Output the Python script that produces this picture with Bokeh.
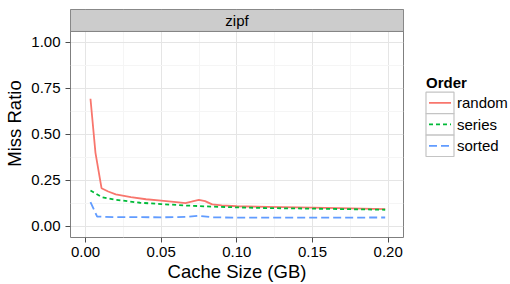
from bokeh.plotting import figure
from bokeh.layouts import row
from bokeh.models import (FixedTicker, Range1d, BoxAnnotation, Label, NumeralTickFormatter)
from bokeh.embed import file_html
from bokeh.resources import INLINE
from bokeh.core.properties import value

# ---- data ----
facet_label = "zipf"
legend_title = "Order"
order_levels = ["random", "series", "sorted"]

random_x = [0.0033, 0.0066, 0.0106, 0.015, 0.020, 0.030, 0.040, 0.050, 0.060, 0.066,
            0.070, 0.0749, 0.079, 0.0837, 0.090, 0.100, 0.120, 0.150, 0.175, 0.198]
random_y = [0.694, 0.400, 0.208, 0.190, 0.175, 0.160, 0.148, 0.140, 0.132, 0.127,
            0.135, 0.145, 0.138, 0.120, 0.115, 0.110, 0.107, 0.102, 0.098, 0.094]

series_x = [0.0033, 0.0106, 0.020, 0.036, 0.050, 0.066, 0.0837, 0.100, 0.120, 0.150, 0.175, 0.198]
series_y = [0.196, 0.160, 0.145, 0.129, 0.122, 0.114, 0.108, 0.104, 0.100, 0.097, 0.094, 0.091]

sorted_x = [0.0033, 0.0077, 0.020, 0.050, 0.066, 0.0749, 0.0837, 0.100, 0.150, 0.198]
sorted_y = [0.132, 0.054, 0.051, 0.050, 0.052, 0.058, 0.050, 0.048, 0.048, 0.049]

x_ticks = [0.0, 0.05, 0.10, 0.15, 0.20]
x_minor = [0.025, 0.075, 0.125, 0.175]
y_ticks = [0.0, 0.25, 0.50, 0.75, 1.00]
y_minor = [0.125, 0.375, 0.625, 0.875]

FONT = "Liberation Sans"
colors = {"random": "#F8766D", "series": "#00BA38", "sorted": "#619CFF"}
dashes = {"random": "solid", "series": "4 3", "sorted": "8 4"}
LINE_W = 1.8

strip_bottom = 1.0598

# ---------------- main panel ----------------
p = figure(width=404, height=284, output_backend="svg", toolbar_location=None,
           x_range=Range1d(-0.0099, 0.2101), y_range=Range1d(-0.0598, 1.179),
           min_border_left=70, min_border_right=1, min_border_top=9, min_border_bottom=47)

p.background_fill_color = "white"
p.border_fill_color = "white"
p.outline_line_color = "#7F7F7F"
p.outline_line_width = 1

for g in (p.xgrid, p.ygrid):
    g.grid_line_color = "#E5E5E5"
    g.grid_line_width = 1
    g.minor_grid_line_color = "#F5F5F5"
    g.minor_grid_line_width = 1

p.xaxis.ticker = FixedTicker(ticks=x_ticks, minor_ticks=x_minor)
p.yaxis.ticker = FixedTicker(ticks=y_ticks, minor_ticks=y_minor)
p.xaxis.formatter = NumeralTickFormatter(format="0.00")
p.yaxis.formatter = NumeralTickFormatter(format="0.00")

for ax in (p.xaxis, p.yaxis):
    ax.axis_line_color = None
    ax.major_tick_line_color = "#4D4D4D"
    ax.major_tick_out = 5
    ax.major_tick_in = 0
    ax.minor_tick_out = 0
    ax.minor_tick_in = 0
    ax.major_label_text_font = FONT
    ax.major_label_text_font_size = "15px"
    ax.major_label_text_color = "black"
    ax.axis_label_text_font = FONT
    ax.axis_label_text_font_size = "18.5px"
    ax.axis_label_text_font_style = "normal"
    ax.axis_label_text_color = "black"

p.xaxis.axis_label = "Cache Size (GB)"
p.yaxis.axis_label = "Miss Ratio"
p.xaxis.major_label_standoff = 4
p.yaxis.major_label_standoff = 5
p.xaxis.axis_label_standoff = 1
p.yaxis.axis_label_standoff = 3

# facet strip
p.add_layout(BoxAnnotation(bottom=strip_bottom, fill_color="#CCCCCC", fill_alpha=1,
                           line_color="#7F7F7F", line_width=1, line_alpha=1))
p.add_layout(Label(x=(p.x_range.start + p.x_range.end) / 2, y=(strip_bottom + p.y_range.end) / 2,
                   text=facet_label, text_align="center", text_baseline="middle",
                   text_font=FONT, text_font_size="15px", text_color="black"))

data = {"random": (random_x, random_y), "series": (series_x, series_y), "sorted": (sorted_x, sorted_y)}
for name in order_levels:
    xs, ys = data[name]
    p.line(xs, ys, line_color=colors[name], line_width=LINE_W, line_dash=dashes[name])

# ---------------- legend panel (pixel coordinates) ----------------
lg = figure(width=106, height=284, output_backend="svg", toolbar_location=None,
            x_range=Range1d(404, 510), y_range=Range1d(284, 0),
            x_axis_type=None, y_axis_type=None,
            min_border_left=0, min_border_right=0, min_border_top=0, min_border_bottom=0)
lg.outline_line_color = None
lg.background_fill_color = "white"
lg.border_fill_color = "white"
lg.xgrid.visible = False
lg.ygrid.visible = False

key_left, key_right, key_h, key_top0 = 425.5, 453.5, 26.7, 103.0
for i, name in enumerate(order_levels):
    top = key_top0 + i * key_h
    mid = top + key_h / 2
    lg.quad(left=key_left, right=key_right, top=top, bottom=top + key_h,
            fill_color="white", line_color="#C4C4C4", line_width=1.2)
    lg.segment(x0=key_left + 3, y0=mid, x1=key_right - 3, y1=mid,
               line_color=colors[name], line_width=LINE_W, line_dash=dashes[name])
    lg.text(x=[key_right + 3], y=[mid], text=[name], text_baseline="middle",
            text_font=value(FONT), text_font_size="15px", text_color="black")
lg.text(x=[key_left], y=[91.5], text=[legend_title], text_baseline="middle",
        text_font=value(FONT), text_font_size="15px", text_font_style="bold", text_color="black")

layout = row(p, lg, spacing=0)
open("out.html", "w").write(file_html(layout, INLINE))
